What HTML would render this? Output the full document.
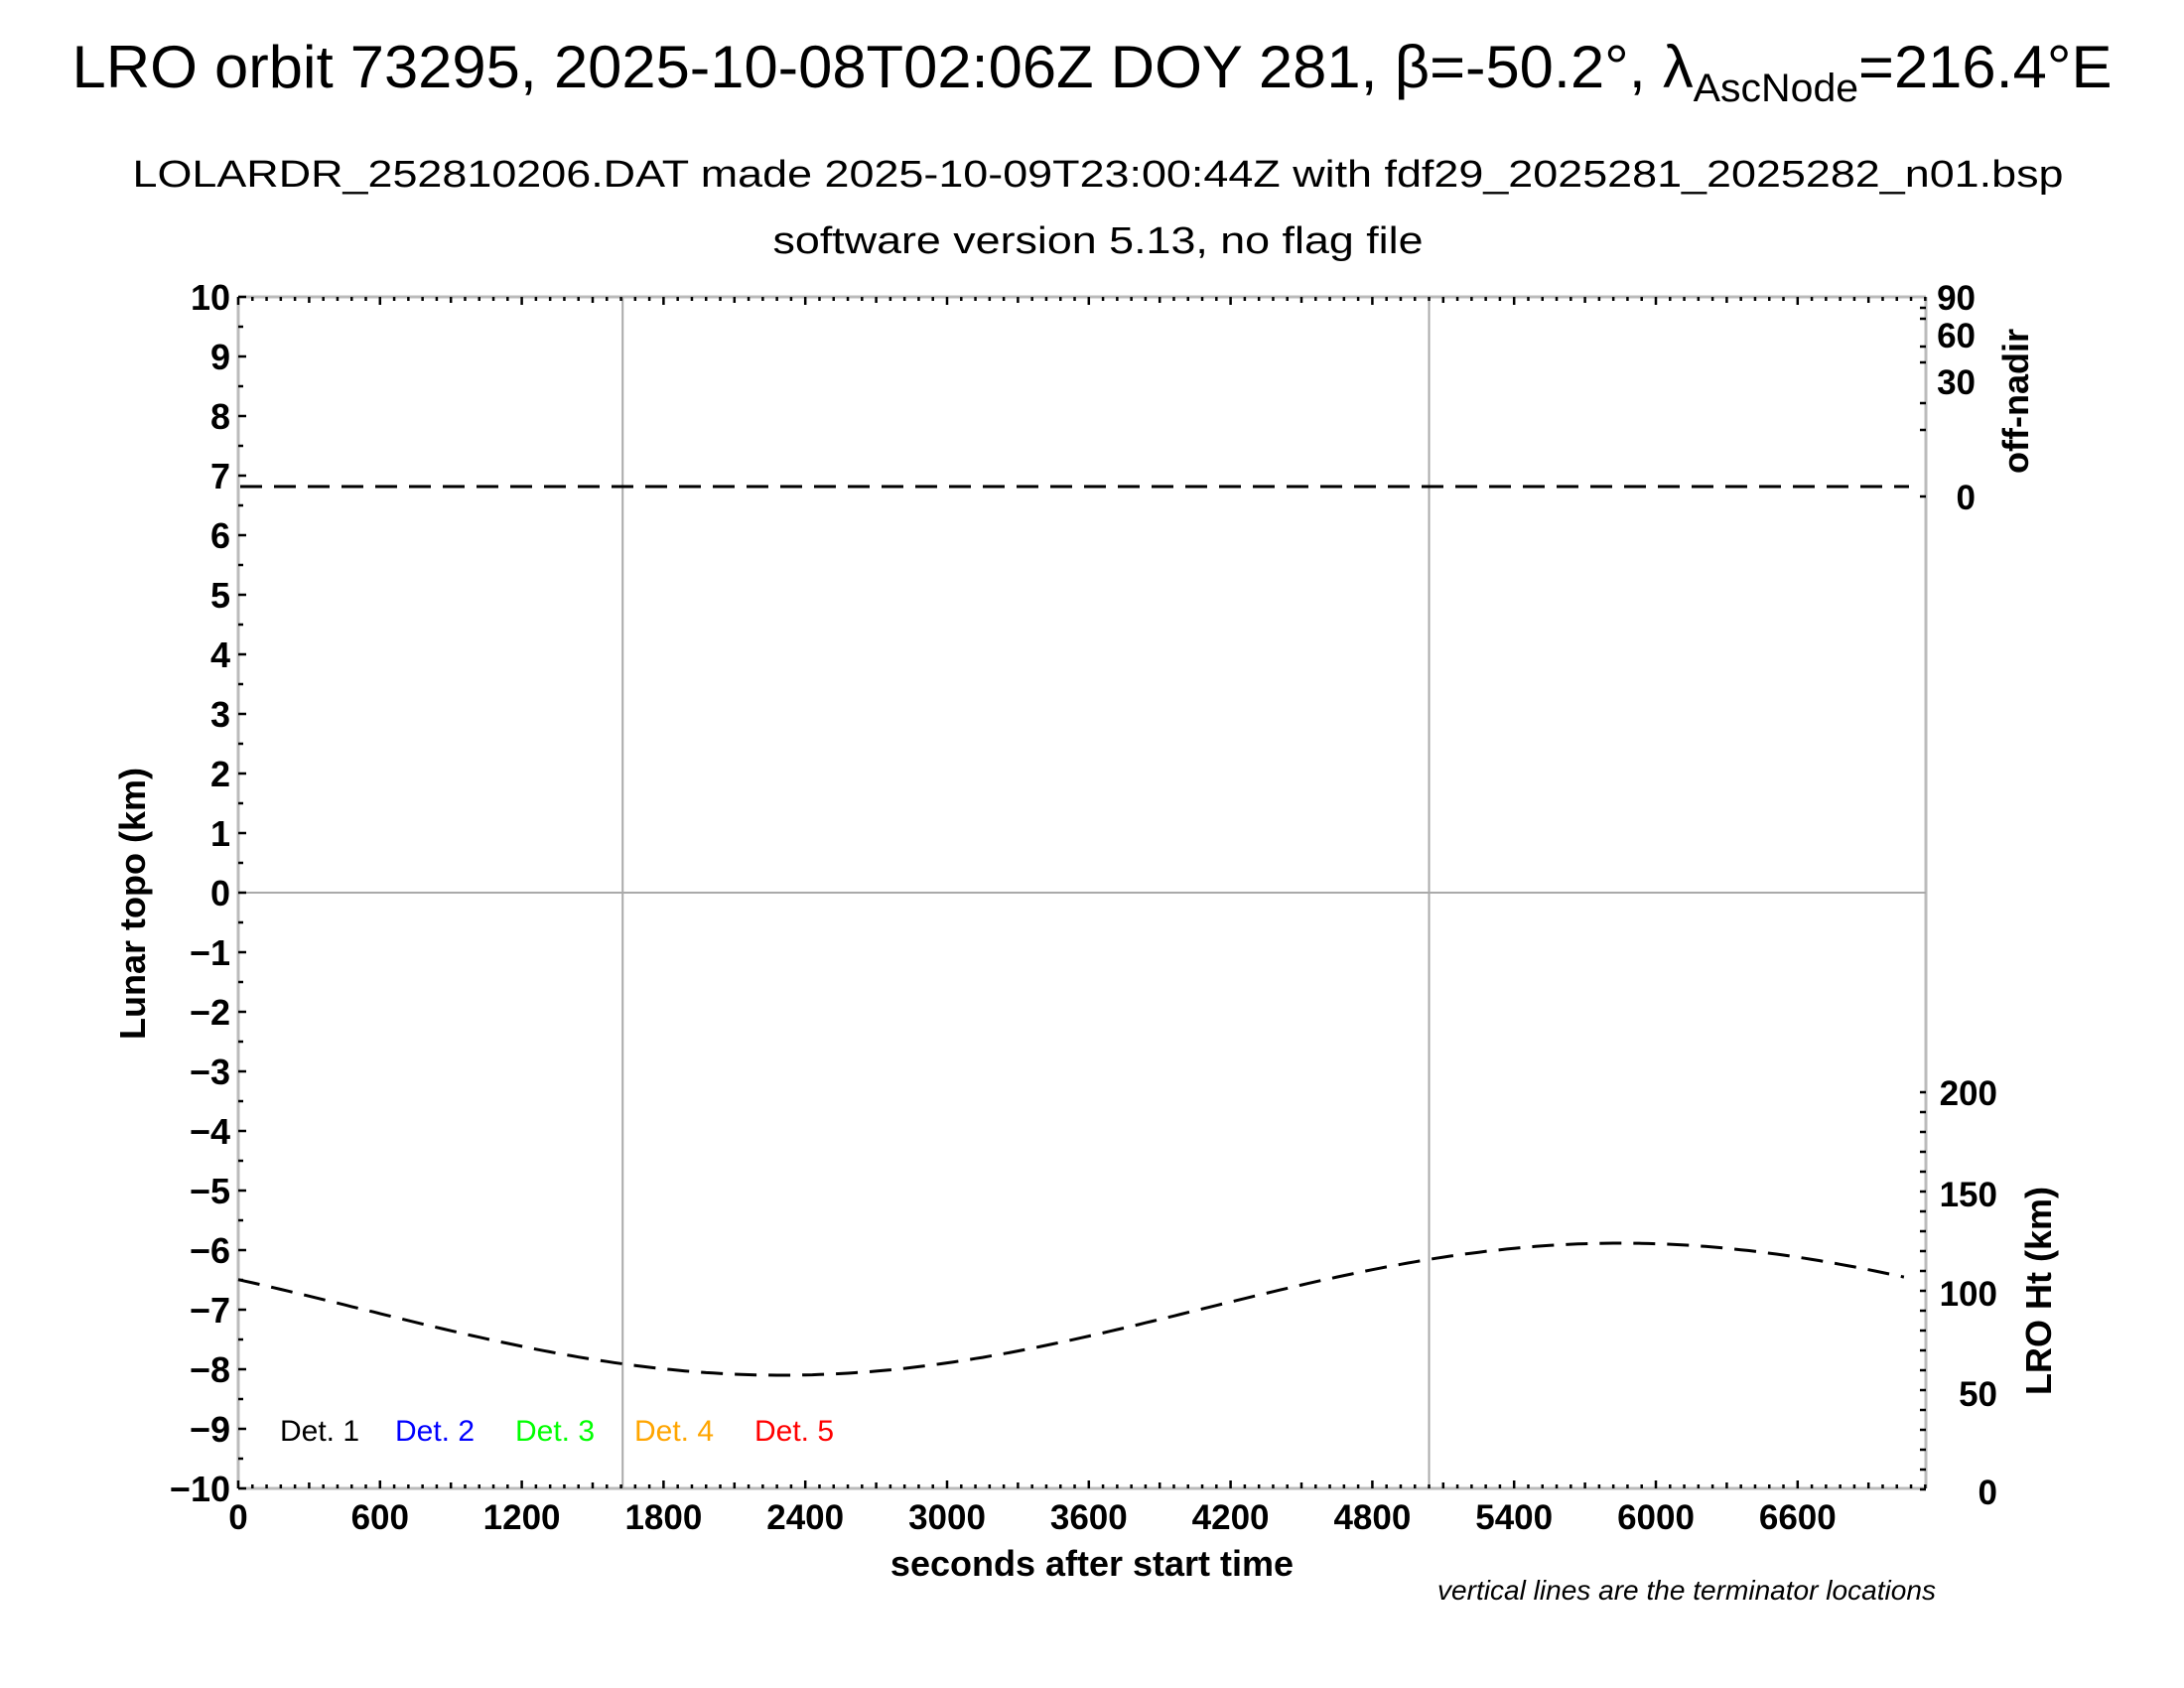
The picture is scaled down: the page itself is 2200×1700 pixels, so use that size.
<!DOCTYPE html>
<html><head><meta charset="utf-8"><style>
html,body{margin:0;padding:0;background:#fff}
svg{display:block}
text{font-family:"Liberation Sans",Arial,sans-serif}
.b{font-weight:bold}
</style></head><body>
<svg id="s" width="2200" height="1700" xmlns="http://www.w3.org/2000/svg">
<rect width="2200" height="1700" fill="#fff"/>
<text x="1100" y="88" font-size="60" text-anchor="middle" textLength="2055" lengthAdjust="spacingAndGlyphs">LRO orbit 73295, 2025-10-08T02:06Z DOY 281, β=-50.2°, λ<tspan font-size="40" dy="14">AscNode</tspan><tspan dy="-14">=216.4°E</tspan></text>
<text x="1106" y="188" font-size="38" text-anchor="middle" textLength="1945" lengthAdjust="spacingAndGlyphs">LOLARDR_252810206.DAT made 2025-10-09T23:00:44Z with fdf29_2025281_2025282_n01.bsp</text>
<text x="1106" y="255" font-size="38" text-anchor="middle" textLength="655" lengthAdjust="spacingAndGlyphs">software version 5.13, no flag file</text>
<g id="g"></g>
<text class="b" x="1100" y="1587" font-size="36" text-anchor="middle">seconds after start time</text>
<text class="b" transform="translate(146,910) rotate(-90)" font-size="36" text-anchor="middle">Lunar topo (km)</text>
<text class="b" transform="translate(2043,404) rotate(-90)" font-size="36" text-anchor="middle">off-nadir</text>
<text class="b" transform="translate(2066,1300) rotate(-90)" font-size="36" text-anchor="middle">LRO Ht (km)</text>
<text x="1950" y="1611" font-size="28" font-style="italic" text-anchor="end" textLength="502" lengthAdjust="spacingAndGlyphs">vertical lines are the terminator locations</text>
<g font-size="30">
<text x="282" y="1451">Det. 1</text>
<text x="398" y="1451" fill="#0000ff">Det. 2</text>
<text x="519" y="1451" fill="#00ff00">Det. 3</text>
<text x="639" y="1451" fill="#ffa500">Det. 4</text>
<text x="760" y="1451" fill="#ff0000">Det. 5</text>
</g>
</svg>
<script>
var g=document.getElementById('g'),h='';
var L=240,R=1940,T=299,B=1499,sx=0.238;
function X(t){return L+t*sx}
function Y(v){return T+(10-v)*60}
h+='<line x1="'+L+'" y1="'+T+'" x2="'+R+'" y2="'+T+'" stroke="#bbb" stroke-width="3"/>';
h+='<line x1="'+L+'" y1="'+B+'" x2="'+R+'" y2="'+B+'" stroke="#bbb" stroke-width="3"/>';
h+='<line x1="'+L+'" y1="'+T+'" x2="'+L+'" y2="'+B+'" stroke="#bbb" stroke-width="3"/>';
h+='<line x1="'+R+'" y1="'+T+'" x2="'+R+'" y2="'+B+'" stroke="#bbb" stroke-width="3"/>';
h+='<line x1="'+L+'" y1="'+Y(0)+'" x2="'+R+'" y2="'+Y(0)+'" stroke="#aaa" stroke-width="2"/>';
[1627,5040].forEach(function(t){h+='<line x1="'+X(t)+'" y1="'+T+'" x2="'+X(t)+'" y2="'+B+'" stroke="#aaa" stroke-width="2"/>';});
for(var t=0;t*sx<=R-L+1;t+=60){var x=X(t),len=t%600==0?8:(t%300==0?6:4);
h+='<line x1="'+x+'" y1="'+B+'" x2="'+x+'" y2="'+(B-len)+'" stroke="#000" stroke-width="2.5"/>';
h+='<line x1="'+x+'" y1="'+T+'" x2="'+x+'" y2="'+(T+len)+'" stroke="#000" stroke-width="2.5"/>';
if(t%600==0&&t<=6600)h+='<text class="b" x="'+x+'" y="1540" font-size="35" text-anchor="middle">'+t+'</text>';}
for(var v=-10;v<=10;v+=0.5){var y=Y(v),len=v%1==0?8:5;
h+='<line x1="'+L+'" y1="'+y+'" x2="'+(L+len)+'" y2="'+y+'" stroke="#000" stroke-width="2.5"/>';
if(v%1==0)h+='<text class="b" x="232" y="'+(y+13)+'" font-size="36" text-anchor="end">'+(v<0?'\u2212'+(-v):v)+'</text>';}
[[90,299],[60,337],[30,384],[0,500]].forEach(function(a){h+='<text class="b" x="1990" y="'+(a[1]+13)+'" font-size="35" text-anchor="end">'+a[0]+'</text>';});
[310,321,349,365,406,433,500].forEach(function(y){h+='<line x1="'+R+'" y1="'+y+'" x2="'+(R-6)+'" y2="'+y+'" stroke="#000" stroke-width="2.5"/>';});
[[200,1100],[150,1202],[100,1302],[50,1403],[0,1502]].forEach(function(a){h+='<text class="b" x="2012" y="'+(a[1]+13)+'" font-size="35" text-anchor="end">'+a[0]+'</text>';});
for(var y=1100;y<=1500;y+=20){h+='<line x1="'+R+'" y1="'+y+'" x2="'+(R-6)+'" y2="'+y+'" stroke="#000" stroke-width="2.5"/>';}
h+='<line x1="242" y1="490" x2="1923" y2="490" stroke="#000" stroke-width="3" stroke-dasharray="22,12"/>';
var p='M';for(var t=0;t<=7071;t+=30){var y=1318.5+66.5*Math.cos(2*Math.PI*(t-2300)/7100);p+=X(t).toFixed(1)+','+y.toFixed(1)+' ';}
h+='<path d="'+p+'" fill="none" stroke="#000" stroke-width="3" stroke-dasharray="22,12"/>';
g.innerHTML=h;
</script>
</body></html>
